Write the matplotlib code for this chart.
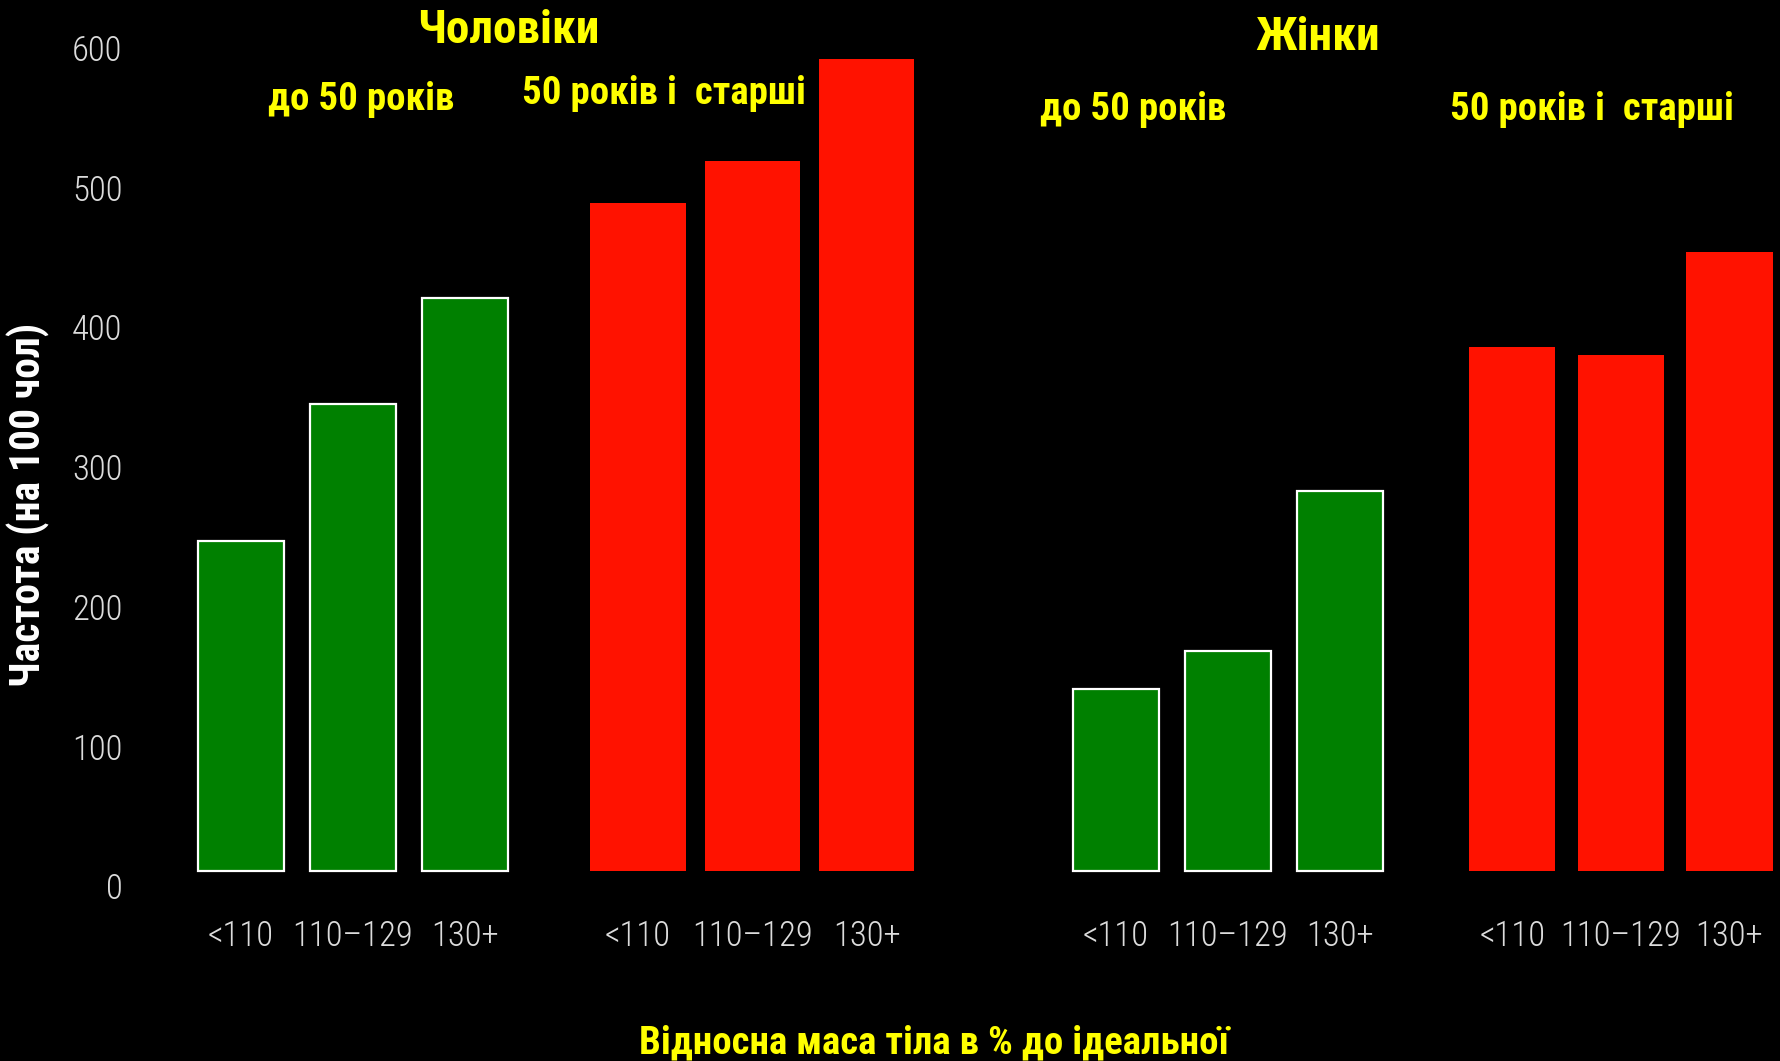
import matplotlib
matplotlib.use("Agg")
import matplotlib.pyplot as plt
import numpy as np

# Дані (значення читаються з графіка)
categories = ["<110", "110–129", "130+"]
men_young = [247, 345, 421]
men_old = [489, 519, 592]
women_young = [141, 168, 283]
women_old = [386, 380, 454]
y_ticks = [0, 100, 200, 300, 400, 500, 600]

# Вузькі шрифти, з запасним DejaVu Sans
fam = ["Roboto Condensed", "PT Sans Narrow", "Archivo Narrow", "DejaVu Sans"]

W, H = 1781, 1061
fig = plt.figure(figsize=(W / 100, H / 100), dpi=100, facecolor="black")

# Осі (в пікселях)
L, R, B, T = 135, 1781, 886, 47.7
ax = fig.add_axes([L / W, (H - B) / H, (R - L) / W, (B - T) / H])
ax.set_facecolor("black")
unit = 112.0
x0 = -(241 - L) / unit
ax.set_xlim(x0, x0 + (R - L) / unit)
ax.set_ylim(0, 600)

base = 11
green = "#008000"
red = "#ff1200"

# Групи стовпців
groups = [
    (men_young, 0.0, 1.0, 0.77, green),
    (men_old, 3.545, 1.02, 0.85, red),
    (women_young, 7.81, 1.0, 0.77, green),
    (women_old, 11.35, 0.97, 0.77, red),
]
tick_pos = []
tick_lab = []
for vals, start, step, width, col in groups:
    xs = start + step * np.arange(len(vals))
    heights = np.array(vals) - base
    if col == green:
        ax.bar(xs, heights, bottom=base, width=width, color=col,
               edgecolor="white", linewidth=1.6)
    else:
        ax.bar(xs, heights, bottom=base, width=width, color=col, linewidth=0)
    tick_pos += list(xs)
    tick_lab += categories

ax.set_xticks(tick_pos)
ax.set_xticklabels(tick_lab)
ax.set_yticks(y_ticks)
ax.tick_params(axis="both", length=0, colors="#dcdcdc", labelsize=25)
ax.tick_params(axis="x", pad=24)
ax.tick_params(axis="y", pad=9)
for lab in ax.get_xticklabels() + ax.get_yticklabels():
    lab.set_family(fam)
    lab.set_fontweight("light")
for s in ax.spines.values():
    s.set_visible(False)

# Підписи
yellow = "#ffff00"
def label(x, y, txt, size, color=yellow, **kw):
    fig.text(x / W, 1 - y / H, txt, color=color, fontsize=size, fontweight="bold",
             family=fam, ha="center", va="center", **kw)

label(508, 30, "Чоловіки", 34)
label(361, 100, "до 50 років", 28)
label(664, 93, "50 років і  старші", 28)
label(1318, 37, "Жінки", 34)
label(1133, 109, "до 50 років", 28)
label(1592, 110, "50 років і  старші", 28)
label(934, 1043, "Відносна маса тіла в % до ідеальної", 28)
label(28, 505, "Частота (на 100 чол)", 30, color="white", rotation=90)

fig.savefig("out.png", dpi=100, facecolor="black")
